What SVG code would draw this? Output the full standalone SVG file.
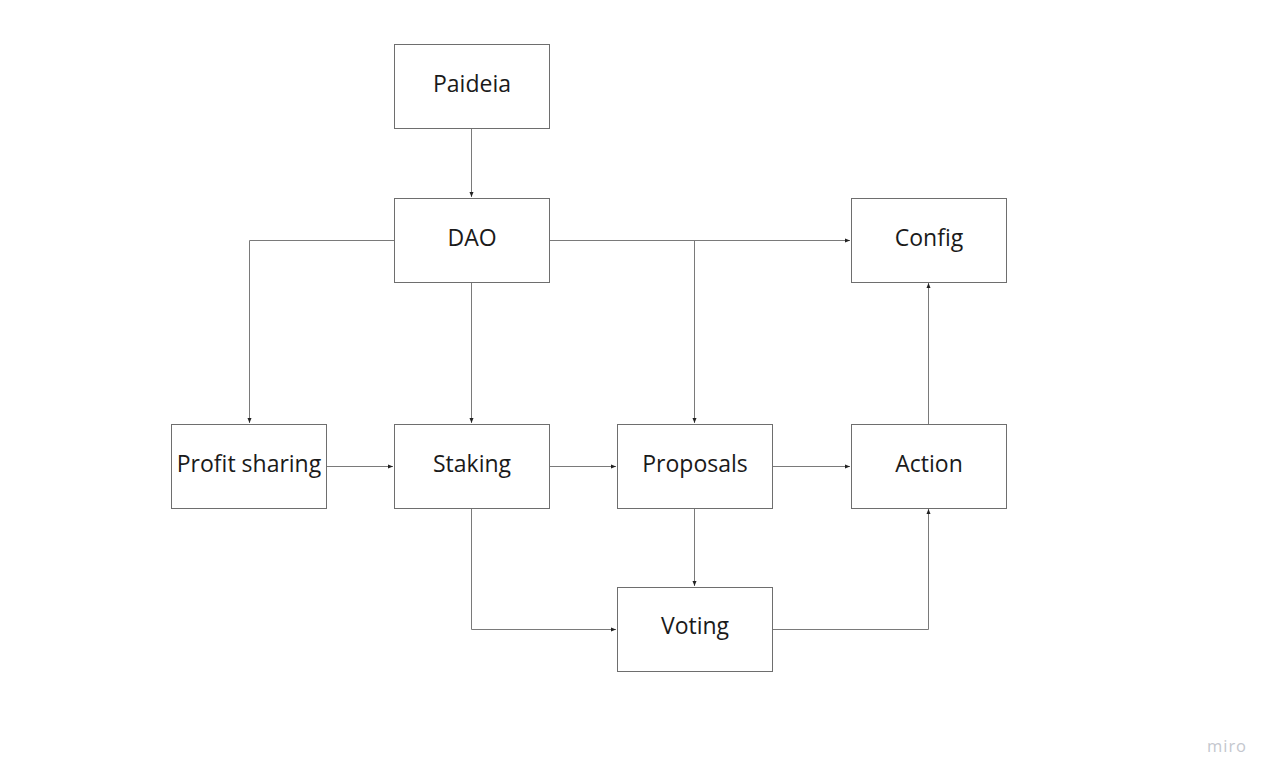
<svg xmlns="http://www.w3.org/2000/svg" width="1277" height="782" viewBox="0 0 1277 782">
<style>
.box{fill:#fff;stroke:#6e6e6e;stroke-width:1}
.lbl{font-family:"Open Sans","Noto Sans",sans-serif;font-size:23px;fill:#1a1a1a;text-anchor:middle;dominant-baseline:central}
.c{fill:none;stroke:#7a7a7a;stroke-width:1}
</style>
<defs>
<marker id="a" markerWidth="6" markerHeight="6" refX="5" refY="3" orient="auto" markerUnits="userSpaceOnUse">
<path d="M0,1 L5,3 L0,5 z" fill="#222"/>
</marker>
</defs>
<rect width="1277" height="782" fill="#fff"/>
<g id="connectors">
<path class="c" d="M471.5,128 V197" marker-end="url(#a)"/>
<path class="c" d="M394,240.5 H249.5 V423" marker-end="url(#a)"/>
<path class="c" d="M471.5,282 V423" marker-end="url(#a)"/>
<path class="c" d="M549,240.5 H850" marker-end="url(#a)"/>
<path class="c" d="M694.5,240.5 V423" marker-end="url(#a)"/>
<path class="c" d="M326,466.5 H393" marker-end="url(#a)"/>
<path class="c" d="M549,466.5 H616" marker-end="url(#a)"/>
<path class="c" d="M772,466.5 H850" marker-end="url(#a)"/>
<path class="c" d="M928.5,424 V283" marker-end="url(#a)"/>
<path class="c" d="M694.5,508 V586" marker-end="url(#a)"/>
<path class="c" d="M471.5,508 V629.5 H616" marker-end="url(#a)"/>
<path class="c" d="M772,629.5 H928.5 V509" marker-end="url(#a)"/>
</g>
<g id="paideia"><rect class="box" x="394.5" y="44.5" width="155" height="84"/><text class="lbl" x="472" y="83">Paideia</text></g>
<g id="dao"><rect class="box" x="394.5" y="198.5" width="155" height="84"/><text class="lbl" x="472" y="237">DAO</text></g>
<g id="config"><rect class="box" x="851.5" y="198.5" width="155" height="84"/><text class="lbl" x="929" y="237">Config</text></g>
<g id="profit-sharing"><rect class="box" x="171.5" y="424.5" width="155" height="84"/><text class="lbl" x="249" y="463">Profit sharing</text></g>
<g id="staking"><rect class="box" x="394.5" y="424.5" width="155" height="84"/><text class="lbl" x="472" y="463">Staking</text></g>
<g id="proposals"><rect class="box" x="617.5" y="424.5" width="155" height="84"/><text class="lbl" x="695" y="463">Proposals</text></g>
<g id="action"><rect class="box" x="851.5" y="424.5" width="155" height="84"/><text class="lbl" x="929" y="463">Action</text></g>
<g id="voting"><rect class="box" x="617.5" y="587.5" width="155" height="84"/><text class="lbl" x="695" y="625">Voting</text></g>
<text x="1227" y="752" font-family="'Open Sans',sans-serif" font-size="16.5" fill="#c4c7ce" text-anchor="middle" letter-spacing="1">miro</text>
</svg>
